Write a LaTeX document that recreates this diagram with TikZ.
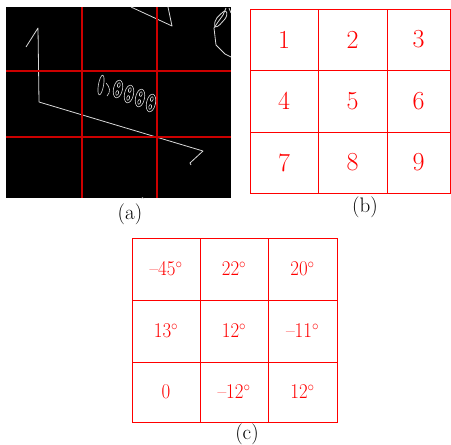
\documentclass[tikz,border=0pt]{standalone}
\usepackage{graphicx}
\begin{document}
\begin{tikzpicture}[x=1pt, y=-1pt,
    gridline/.style={red, line width=0.9pt},
    splitline/.style={red!80!black, line width=1.2pt},
    edgeline/.style={white!85!black, line width=0.8pt, line join=round},
    numtext/.style={red, font=\fontsize{26}{30}\selectfont},
    celltext/.style={red, font=\fontsize{21}{25}\selectfont},
    caption/.style={black, font=\fontsize{21}{25}\selectfont}]
    \useasboundingbox (0,0) rectangle (451,445);
    % (a) edge image, split into 3x3 blocks
    \fill[black] (6,7) rectangle (231,198);
    \draw[edgeline] (26,47) -- (38,28) -- (39,102) -- (203,151) -- (190,163) -- (191,165);
    \draw[edgeline] (131,7) -- (172,26) -- (168,7);
    \draw[edgeline] (231,57) -- (225,54) -- (216,45) -- (214,28) -- (218,22) -- (223,15) -- (226,8);
    \draw[edgeline] (215,27) .. controls (213,19) and (220,15) .. (223,12) .. controls (226,9) and (229,13) .. (225,19) .. controls (221,23) and (219,27) .. (215,27);
    \draw[edgeline] (229,8) -- (231,13);
    % plate characters (outlines only)
    \foreach \cx/\cy in {118/89, 129/94, 140/98, 151/103} {
        \draw[edgeline, line width=0.6pt, rotate around={-12:(\cx,\cy)}] (\cx,\cy) ellipse (4.5pt and 9pt);
        \draw[edgeline, line width=0.6pt, rotate around={-12:(\cx,\cy)}] (\cx,\cy-4) ellipse (1.4pt and 2.4pt);
        \draw[edgeline, line width=0.6pt, rotate around={-12:(\cx,\cy)}] (\cx,\cy+4) ellipse (1.4pt and 2.4pt);
    }
    \draw[edgeline, line width=0.6pt, rotate around={-10:(101,85)}] (101,85) ellipse (2.6pt and 10pt);
    \draw[edgeline, line width=0.6pt] (106,83) .. controls (110,87) and (111,92) .. (107,96);
    \draw[edgeline, line width=0.6pt] (141,199) arc (180:360:1.5);
    \foreach \x in {82,157} { \draw[splitline] (\x,7) -- (\x,198); }
    \foreach \y in {71,137} { \draw[splitline] (6,\y) -- (231,\y); }
    \node[caption] (capa) at (130,214) {(a)};
    % (b) block numbering
    \draw[gridline] (250,9) rectangle (450,193);
    \foreach \x in {318,387} { \draw[gridline] (\x,9) -- (\x,193); }
    \foreach \y in {70,132} { \draw[gridline] (250,\y) -- (450,\y); }
    \foreach \n/\cx/\cy in {1/284/39.5, 2/352.5/39.5, 3/418.5/39.5,
                            4/284/101, 5/352.5/101, 6/418.5/101,
                            7/284/162.5, 8/352.5/162.5, 9/418.5/162.5} {
        \node[numtext] (num\n) at (\cx,\cy) {\n};
    }
    \node[caption] (capb) at (365,207) {(b)};
    % (c) main direction of each block
    \draw[gridline] (132,238) rectangle (337,422);
    \foreach \x in {200,268} { \draw[gridline] (\x,238) -- (\x,422); }
    \foreach \y in {300,362} { \draw[gridline] (132,\y) -- (337,\y); }
    \foreach \n/\cx/\cy/\ang in {1/166/269/\textendash45$^{\circ}$, 2/234/269/22$^{\circ}$, 3/302.5/269/20$^{\circ}$,
                                 4/166/331/13$^{\circ}$, 5/234/331/12$^{\circ}$, 6/302.5/331/\textendash11$^{\circ}$,
                                 7/166/392/0, 8/234/392/\textendash12$^{\circ}$, 9/302.5/392/12$^{\circ}$} {
        \node[celltext] (ang\n) at (\cx,\cy) {\scalebox{0.9}[1]{\ang}};
    }
    \node[caption] (capc) at (247,434) {(c)};
\end{tikzpicture}
\end{document}
